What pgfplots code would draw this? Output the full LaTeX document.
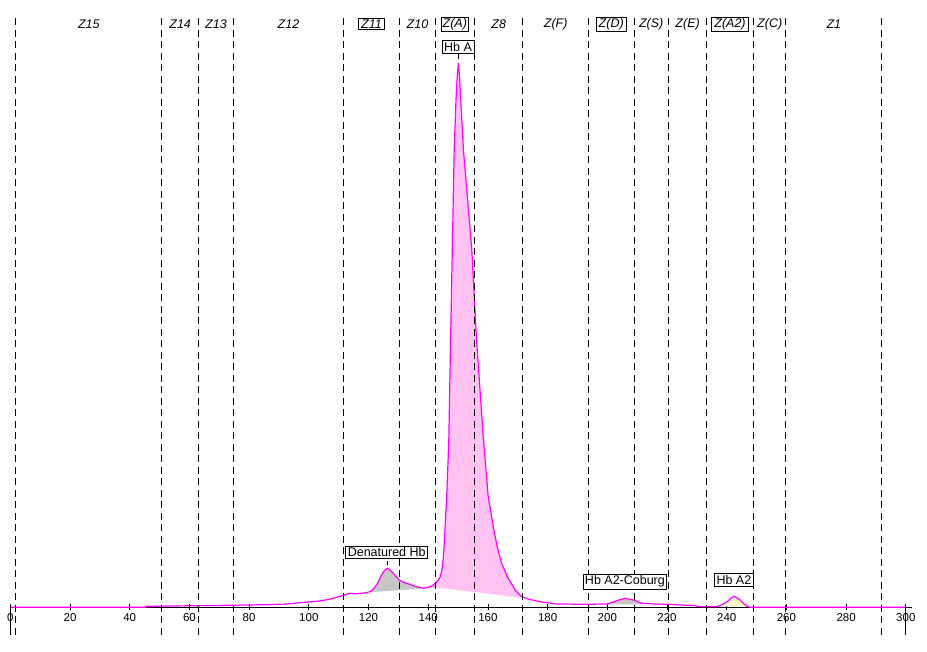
\documentclass[border=0pt]{standalone}
\usepackage{pgfplots}
\pgfplotsset{compat=1.18}
\usepackage{fontspec}
\setmainfont{Liberation Sans}
\definecolor{curvecol}{HTML}{FF00FF}
\definecolor{pinkfill}{HTML}{FFC2F3}
\definecolor{grayfill}{HTML}{C6C6C6}
\definecolor{yellowfill}{HTML}{FFF8C4}
\begin{document}
\begin{tikzpicture}[x=1pt,y=1pt]
\begin{axis}[
  at={(0,0)}, anchor=south west,
  scale only axis, width=901.5pt, height=620pt,
  xmin=0, xmax=302, ymin=-27.7, ymax=592.3,
  axis x line=middle, axis y line=none,
  axis line style={-, black, line width=0.8pt},
  xtick={0,20,...,300},
  hide obscured x ticks=false,
  tick style={black, line width=0.8pt},
  major tick length=6pt,
  tick label style={font=\fontsize{11.5}{13}\selectfont},
  /pgf/number format/assume math mode=true,
  clip=false,
]
% peak fills (area under curve above the peak baselines)
\addplot[fill=grayfill, draw=none] coordinates {
(120.5,15.2) (120.5,15.6) (121.7,18.5) (122.7,22.3) (123.6,27.5) (124.4,32.3)
(125.4,37) (126.4,39.0) (127.3,37) (128.3,34.0) (129.3,30.5) (130.3,27.3) (131.5,25.3)
(132.8,24.0) (134.5,22.2) (136.1,20.6) (138.4,19.0) (139.6,19.8) (140.6,20.6) (141.5,22)
(142.3,24.0) (142.3,19.5)} -- cycle;
\addplot[fill=pinkfill, draw=none] coordinates {
(142.3,20.0) (142.3,24.0) (143.2,26.5) (144.0,30.6) (144.5,36) (144.9,44) (145.3,60) (145.6,77.3)
(146.2,110.6) (146.9,167.3) (147.5,267.3) (148.1,362.3) (148.7,457.3) (149.3,507.3)
(149.7,530) (150.1,544.6) (150.5,530) (150.9,507.3) (151.8,457.3) (154.6,357.3)
(156.2,267.3) (158.4,172.3) (160.1,110.6) (162.0,77.3) (163.3,58) (164.6,44.0)
(166.5,30.6) (169.1,17.3) (171.3,10.6) (171.3,9.5)} -- cycle;
\addplot[fill=grayfill, draw=none] coordinates {
(199.8,3.0) (199.8,3.3) (201.5,4.8) (203.2,6.6) (205.9,9.0) (208.7,7.3) (211.6,4.0) (211.6,3.0)} -- cycle;
\addplot[fill=yellowfill, draw=none] coordinates {
(239.0,1.0) (239.0,4.2) (240.2,5.6) (241.4,9) (242.4,11.0) (243.4,9.5) (244.5,7.3) (245.7,3.5) (246.8,1.0)} -- cycle;
% data curve
\addplot[curvecol, line width=1.2pt] coordinates {
(0,0) (45.5,0) (45.7,1.0) (60,1.5) (72.5,2.0) (85.9,2.6) (92.6,3.3) (97.1,4.6)
(102.6,6.0) (106,7.5) (108.2,9.0) (110,10.5) (111.6,11.8) (113.6,14.0) (115.5,13.6)
(117.2,13.8) (119,14.5) (120.5,15.6) (121.7,18.5) (122.7,22.3) (123.6,27.5) (124.4,32.3)
(125.4,37) (126.4,39.0) (127.3,37) (128.3,34.0) (129.3,30.5) (130.3,27.3) (131.5,25.3)
(132.8,24.0) (134.5,22.2) (136.1,20.6) (138.4,19.0) (139.6,19.8) (140.6,20.6) (141.5,22)
(142.3,24.0) (143.2,26.5) (144.0,30.6) (144.5,36) (144.9,44) (145.3,60) (145.6,77.3)
(146.2,110.6) (146.9,167.3) (147.5,267.3) (148.1,362.3) (148.7,457.3) (149.3,507.3)
(149.7,530) (150.1,544.6) (150.5,530) (150.9,507.3) (151.8,457.3) (154.6,357.3)
(156.2,267.3) (158.4,172.3) (160.1,110.6) (162.0,77.3) (163.3,58) (164.6,44.0)
(166.5,30.6) (169.1,17.3) (171.3,10.6) (174.1,7.8) (177.4,5.6) (183.0,3.3) (193.1,3.0)
(199.8,3.3) (201.5,4.8) (203.2,6.6) (205.9,9.0) (208.7,7.3) (211.6,4.0) (215,3.4)
(220.4,3.0) (224.4,2.3) (228.8,1.8) (231.1,0.6) (236.7,0.6) (238.5,2.5) (240.2,5.6)
(241.4,9) (242.4,11.0) (243.4,9.5) (244.5,7.3) (245.7,3.5) (246.8,1.0) (247.9,0) (300,0)
};
% zone boundaries
\pgfplotsinvokeforeach{1.8,50.7,63.1,74.7,111.6,130.3,142.4,155.4,171.7,193.6,209.0,220.4,233.3,248.9,259.8,291.9}{
  \draw[black, line width=0.9pt, dash pattern=on 7pt off 4.5pt] (axis cs:#1,-27.7) -- (axis cs:#1,592.3);
}
\draw[black, line width=0.8pt] (axis cs:0,0) -- (axis cs:0,-27.7);
\draw[black, line width=0.8pt] (axis cs:300,0) -- (axis cs:300,-27.7);
% zone labels
\node[font=\fontsize{12.5}{14}\selectfont\itshape, inner sep=1.2pt] at (axis cs:26.3,583) {Z15};
\node[font=\fontsize{12.5}{14}\selectfont\itshape, inner sep=1.2pt] at (axis cs:56.9,583) {Z14};
\node[font=\fontsize{12.5}{14}\selectfont\itshape, inner sep=1.2pt] at (axis cs:68.9,583) {Z13};
\node[font=\fontsize{12.5}{14}\selectfont\itshape, inner sep=1.2pt] at (axis cs:93.2,583) {Z12};
\node[draw, fill=white, line width=0.8pt, font=\fontsize{12.5}{14}\selectfont\itshape, inner xsep=3pt, inner ysep=1.2pt] at (axis cs:121.0,583) {Z11};
\node[font=\fontsize{12.5}{14}\selectfont\itshape, inner sep=1.2pt] at (axis cs:136.4,583) {Z10};
\node[draw, fill=white, line width=0.8pt, font=\fontsize{12.5}{14}\selectfont\itshape, inner xsep=1.5pt, inner ysep=1.2pt] at (axis cs:148.9,583) {Z(A)};
\node[font=\fontsize{12.5}{14}\selectfont\itshape, inner sep=1.2pt] at (axis cs:163.6,583) {Z8};
\node[font=\fontsize{12.5}{14}\selectfont\itshape, inner sep=1.2pt] at (axis cs:182.7,583) {Z(F)};
\node[draw, fill=white, line width=0.8pt, font=\fontsize{12.5}{14}\selectfont\itshape, inner xsep=2.5pt, inner ysep=1.2pt] at (axis cs:201.3,583) {Z(D)};
\node[font=\fontsize{12.5}{14}\selectfont\itshape, inner sep=1.2pt] at (axis cs:214.7,583) {Z(S)};
\node[font=\fontsize{12.5}{14}\selectfont\itshape, inner sep=1.2pt] at (axis cs:226.9,583) {Z(E)};
\node[draw, fill=white, line width=0.8pt, font=\fontsize{12.5}{14}\selectfont\itshape, inner xsep=2.5pt, inner ysep=1.2pt] at (axis cs:241.1,583) {Z(A2)};
\node[font=\fontsize{12.5}{14}\selectfont\itshape, inner sep=1.2pt] at (axis cs:254.4,583) {Z(C)};
\node[font=\fontsize{12.5}{14}\selectfont\itshape, inner sep=1.2pt] at (axis cs:275.9,583) {Z1};
% peak labels
\draw[black, line width=0.7pt] (axis cs:150.1,553) -- (axis cs:150.1,548);
\node[draw, fill=white, line width=0.8pt, inner xsep=2pt, inner ysep=1.8pt, font=\fontsize{12.5}{14}\selectfont] at (axis cs:150.0,560.2) {Hb A};
\draw[black, line width=0.7pt] (axis cs:126.4,46) -- (axis cs:126.4,42);
\node[draw, fill=white, line width=0.8pt, inner xsep=2pt, inner ysep=1.8pt, font=\fontsize{12.5}{14}\selectfont] at (axis cs:126.1,54.8) {Denatured Hb};
\node[draw, fill=white, line width=0.8pt, inner xsep=2pt, inner ysep=1.8pt, font=\fontsize{12.5}{14}\selectfont] at (axis cs:205.9,25.6) {Hb A2-Coburg};
\node[draw, fill=white, line width=0.8pt, inner xsep=2pt, inner ysep=1.8pt, font=\fontsize{12.5}{14}\selectfont] at (axis cs:242.4,27.1) {Hb A2};
\end{axis}
\path (-10.3,-17) rectangle (916.7,635);
\end{tikzpicture}
\end{document}
